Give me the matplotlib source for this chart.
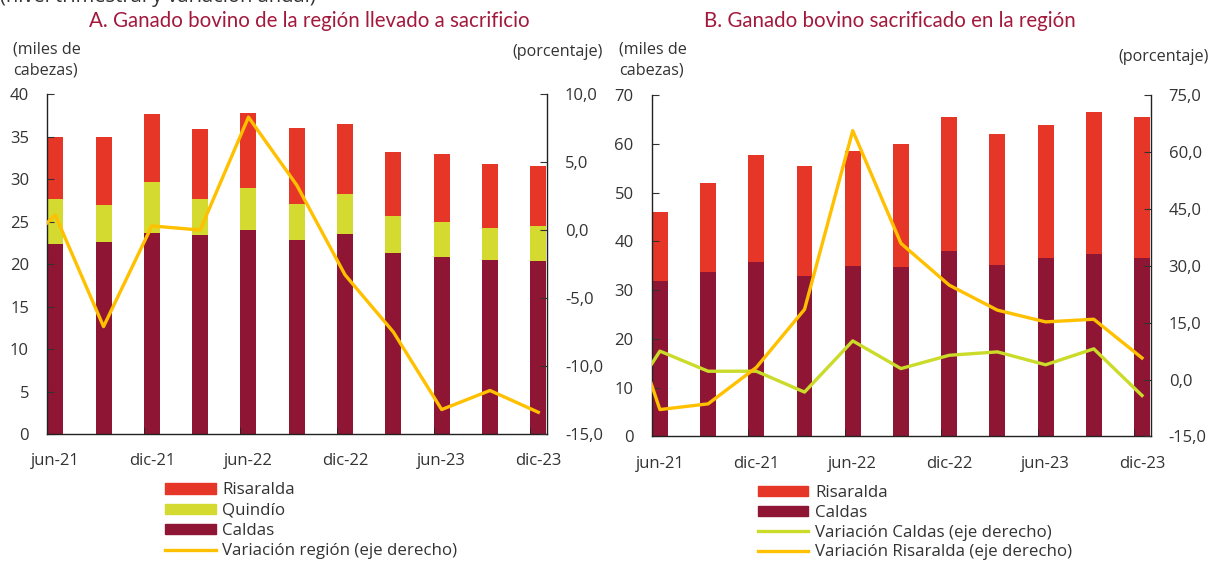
import numpy as np
import matplotlib.pyplot as plt
from matplotlib.patches import Patch
from matplotlib.lines import Line2D
from matplotlib.ticker import FuncFormatter

# quarters jun-21 .. dic-23
periodos = ["jun-21", "sep-21", "dic-21", "mar-22", "jun-22", "sep-22",
            "dic-22", "mar-23", "jun-23", "sep-23", "dic-23"]
etiquetas = ["jun-21", "", "dic-21", "", "jun-22", "", "dic-22", "", "jun-23", "", "dic-23"]

# panel A (miles de cabezas)
a_caldas = [22.3, 22.6, 23.7, 23.4, 24.0, 22.8, 23.5, 21.3, 20.8, 20.5, 20.4]
a_quindio = [5.4, 4.4, 5.9, 4.3, 5.0, 4.3, 4.7, 4.3, 4.2, 3.7, 4.1]
a_risaralda = [7.2, 7.9, 8.1, 8.2, 8.8, 8.9, 8.3, 7.6, 7.9, 7.6, 7.0]
# variacion anual region (%); first value is mar-21, only partly visible
a_var_region = [-2.3, 1.1, -7.1, 0.3, 0.0, 8.3, 3.3, -3.3, -7.5, -13.2, -11.8, -13.4]

# panel B (miles de cabezas)
b_caldas = [31.8, 33.7, 35.7, 32.9, 35.0, 34.7, 38.1, 35.2, 36.6, 37.4, 36.6]
b_risaralda = [14.2, 18.3, 21.9, 22.6, 23.6, 25.3, 27.3, 26.9, 27.3, 29.1, 28.8]
# variacion anual (%); first value is mar-21, only partly visible
b_var_caldas = [-12.4, 7.5, 2.2, 2.2, -3.3, 10.2, 2.9, 6.4, 7.3, 3.9, 8.1, -4.2]
b_var_risaralda = [30.0, -7.9, -6.4, 3.2, 18.5, 65.6, 35.9, 24.9, 18.3, 15.2, 15.9, 5.7]

c_ris = "#E63627"
c_qui = "#D4DA2F"
c_cal = "#8E1634"
c_oro = "#FFC000"
c_verde = "#CADB2A"
c_titulo = "#A3193C"
c_txt = "#333333"

plt.rcParams['font.family'] = ['Open Sans', 'DejaVu Sans']
plt.rcParams['font.size'] = 12

fig = plt.figure(figsize=(12.12, 5.63), dpi=100)

x = np.arange(len(periodos))
xl = np.arange(-1, len(periodos))
ancho = 0.33
coma = FuncFormatter(lambda v, p: f"{v:.1f}".replace(".", ","))


def estilo(ax, ax2):
    for a in (ax, ax2):
        a.spines['top'].set_visible(False)
        for s in ('left', 'right', 'bottom'):
            a.spines[s].set_color("#222222")
            a.spines[s].set_linewidth(1.0)
    ax.spines['right'].set_visible(False)
    ax2.spines['left'].set_visible(False)
    ax2.spines['bottom'].set_visible(False)
    ax.set_xticks(x)
    ax.set_xticklabels(etiquetas)
    ax.set_xticks(x[::2] - 0.165, minor=True)
    ax.tick_params(axis='x', which='major', length=0, pad=14, labelsize=12, colors=c_txt)
    ax.tick_params(axis='x', which='minor', direction='in', length=5, color="#222222")
    ax.tick_params(axis='y', direction='in', length=5, labelsize=12, colors=c_txt, pad=13)
    ax2.tick_params(axis='y', direction='in', length=5, labelsize=12, colors=c_txt, pad=13)
    ax2.yaxis.set_major_formatter(coma)


# ---- panel A
ax = fig.add_axes([0.0388, 0.2291, 0.4125, 0.6039])
ax2 = ax.twinx()
ax.bar(x, a_caldas, ancho, color=c_cal)
ax.bar(x, a_quindio, ancho, bottom=a_caldas, color=c_qui)
ax.bar(x, a_risaralda, ancho, bottom=np.add(a_caldas, a_quindio), color=c_ris)
ax2.plot(xl, a_var_region, color=c_oro, lw=2.4)
ax.set_xlim(-0.17, 10.18)
ax.set_ylim(0, 40)
ax.set_yticks(np.arange(0, 41, 5))
ax2.set_ylim(-15, 10)
ax2.set_yticks(np.arange(-15, 11, 5))
estilo(ax, ax2)

# ---- panel B
bx = fig.add_axes([0.5377, 0.2247, 0.4117, 0.6066])
bx2 = bx.twinx()
bx.bar(x, b_caldas, ancho, color=c_cal)
bx.bar(x, b_risaralda, ancho, bottom=b_caldas, color=c_ris)
bx2.plot(xl, b_var_caldas, color=c_verde, lw=2.4)
bx2.plot(xl, b_var_risaralda, color=c_oro, lw=2.4)
bx.set_xlim(-0.17, 10.18)
bx.set_ylim(0, 70)
bx.set_yticks(np.arange(0, 71, 10))
bx2.set_ylim(-15, 75)
bx2.set_yticks(np.arange(-15, 76, 15))
estilo(bx, bx2)

# ---- texts
fig.text(0.0, 1.006, "(nivel trimestral y variación anual)", fontsize=14.5,
         color=c_txt, ha='left', va='center')
fig.text(0.2555, 0.962, "A. Ganado bovino de la región llevado a sacrificio",
         fontsize=14.8, color=c_titulo, ha='center', va='center', family=['Lato', 'DejaVu Sans'])
fig.text(0.734, 0.962, "B. Ganado bovino sacrificado en la región",
         fontsize=14.8, color=c_titulo, ha='center', va='center', family=['Lato', 'DejaVu Sans'])
fig.text(0.011, 0.893, "(miles de\ncabezas)", fontsize=11.6, color=c_txt,
         ha='left', va='center', linespacing=1.45)
fig.text(0.497, 0.907, "(porcentaje)", fontsize=11.6, color=c_txt, ha='right', va='center')
fig.text(0.511, 0.893, "(miles de\ncabezas)", fontsize=11.6, color=c_txt,
         ha='left', va='center', linespacing=1.45)
fig.text(0.997, 0.898, "(porcentaje)", fontsize=11.6, color=c_txt, ha='right', va='center')

# ---- legends
leg_a = [Patch(color=c_ris, label="Risaralda"),
         Patch(color=c_qui, label="Quindío"),
         Patch(color=c_cal, label="Caldas"),
         Line2D([], [], color=c_oro, lw=2.4, label="Variación región (eje derecho)")]
fig.legend(handles=leg_a, loc='upper left', bbox_to_anchor=(0.136, 0.143),
           frameon=False, fontsize=12.2, handlelength=3.0, handleheight=0.55,
           handletextpad=0.4, labelspacing=0.25, borderaxespad=0, borderpad=0,
           labelcolor=c_txt)
leg_b = [Patch(color=c_ris, label="Risaralda"),
         Patch(color=c_cal, label="Caldas"),
         Line2D([], [], color=c_verde, lw=2.4, label="Variación Caldas (eje derecho)"),
         Line2D([], [], color=c_oro, lw=2.4, label="Variación Risaralda (eje derecho)")]
fig.legend(handles=leg_b, loc='upper left', bbox_to_anchor=(0.625, 0.138),
           frameon=False, fontsize=12.2, handlelength=3.0, handleheight=0.55,
           handletextpad=0.4, labelspacing=0.22, borderaxespad=0, borderpad=0,
           labelcolor=c_txt)

fig.savefig("out.png", dpi=100)
